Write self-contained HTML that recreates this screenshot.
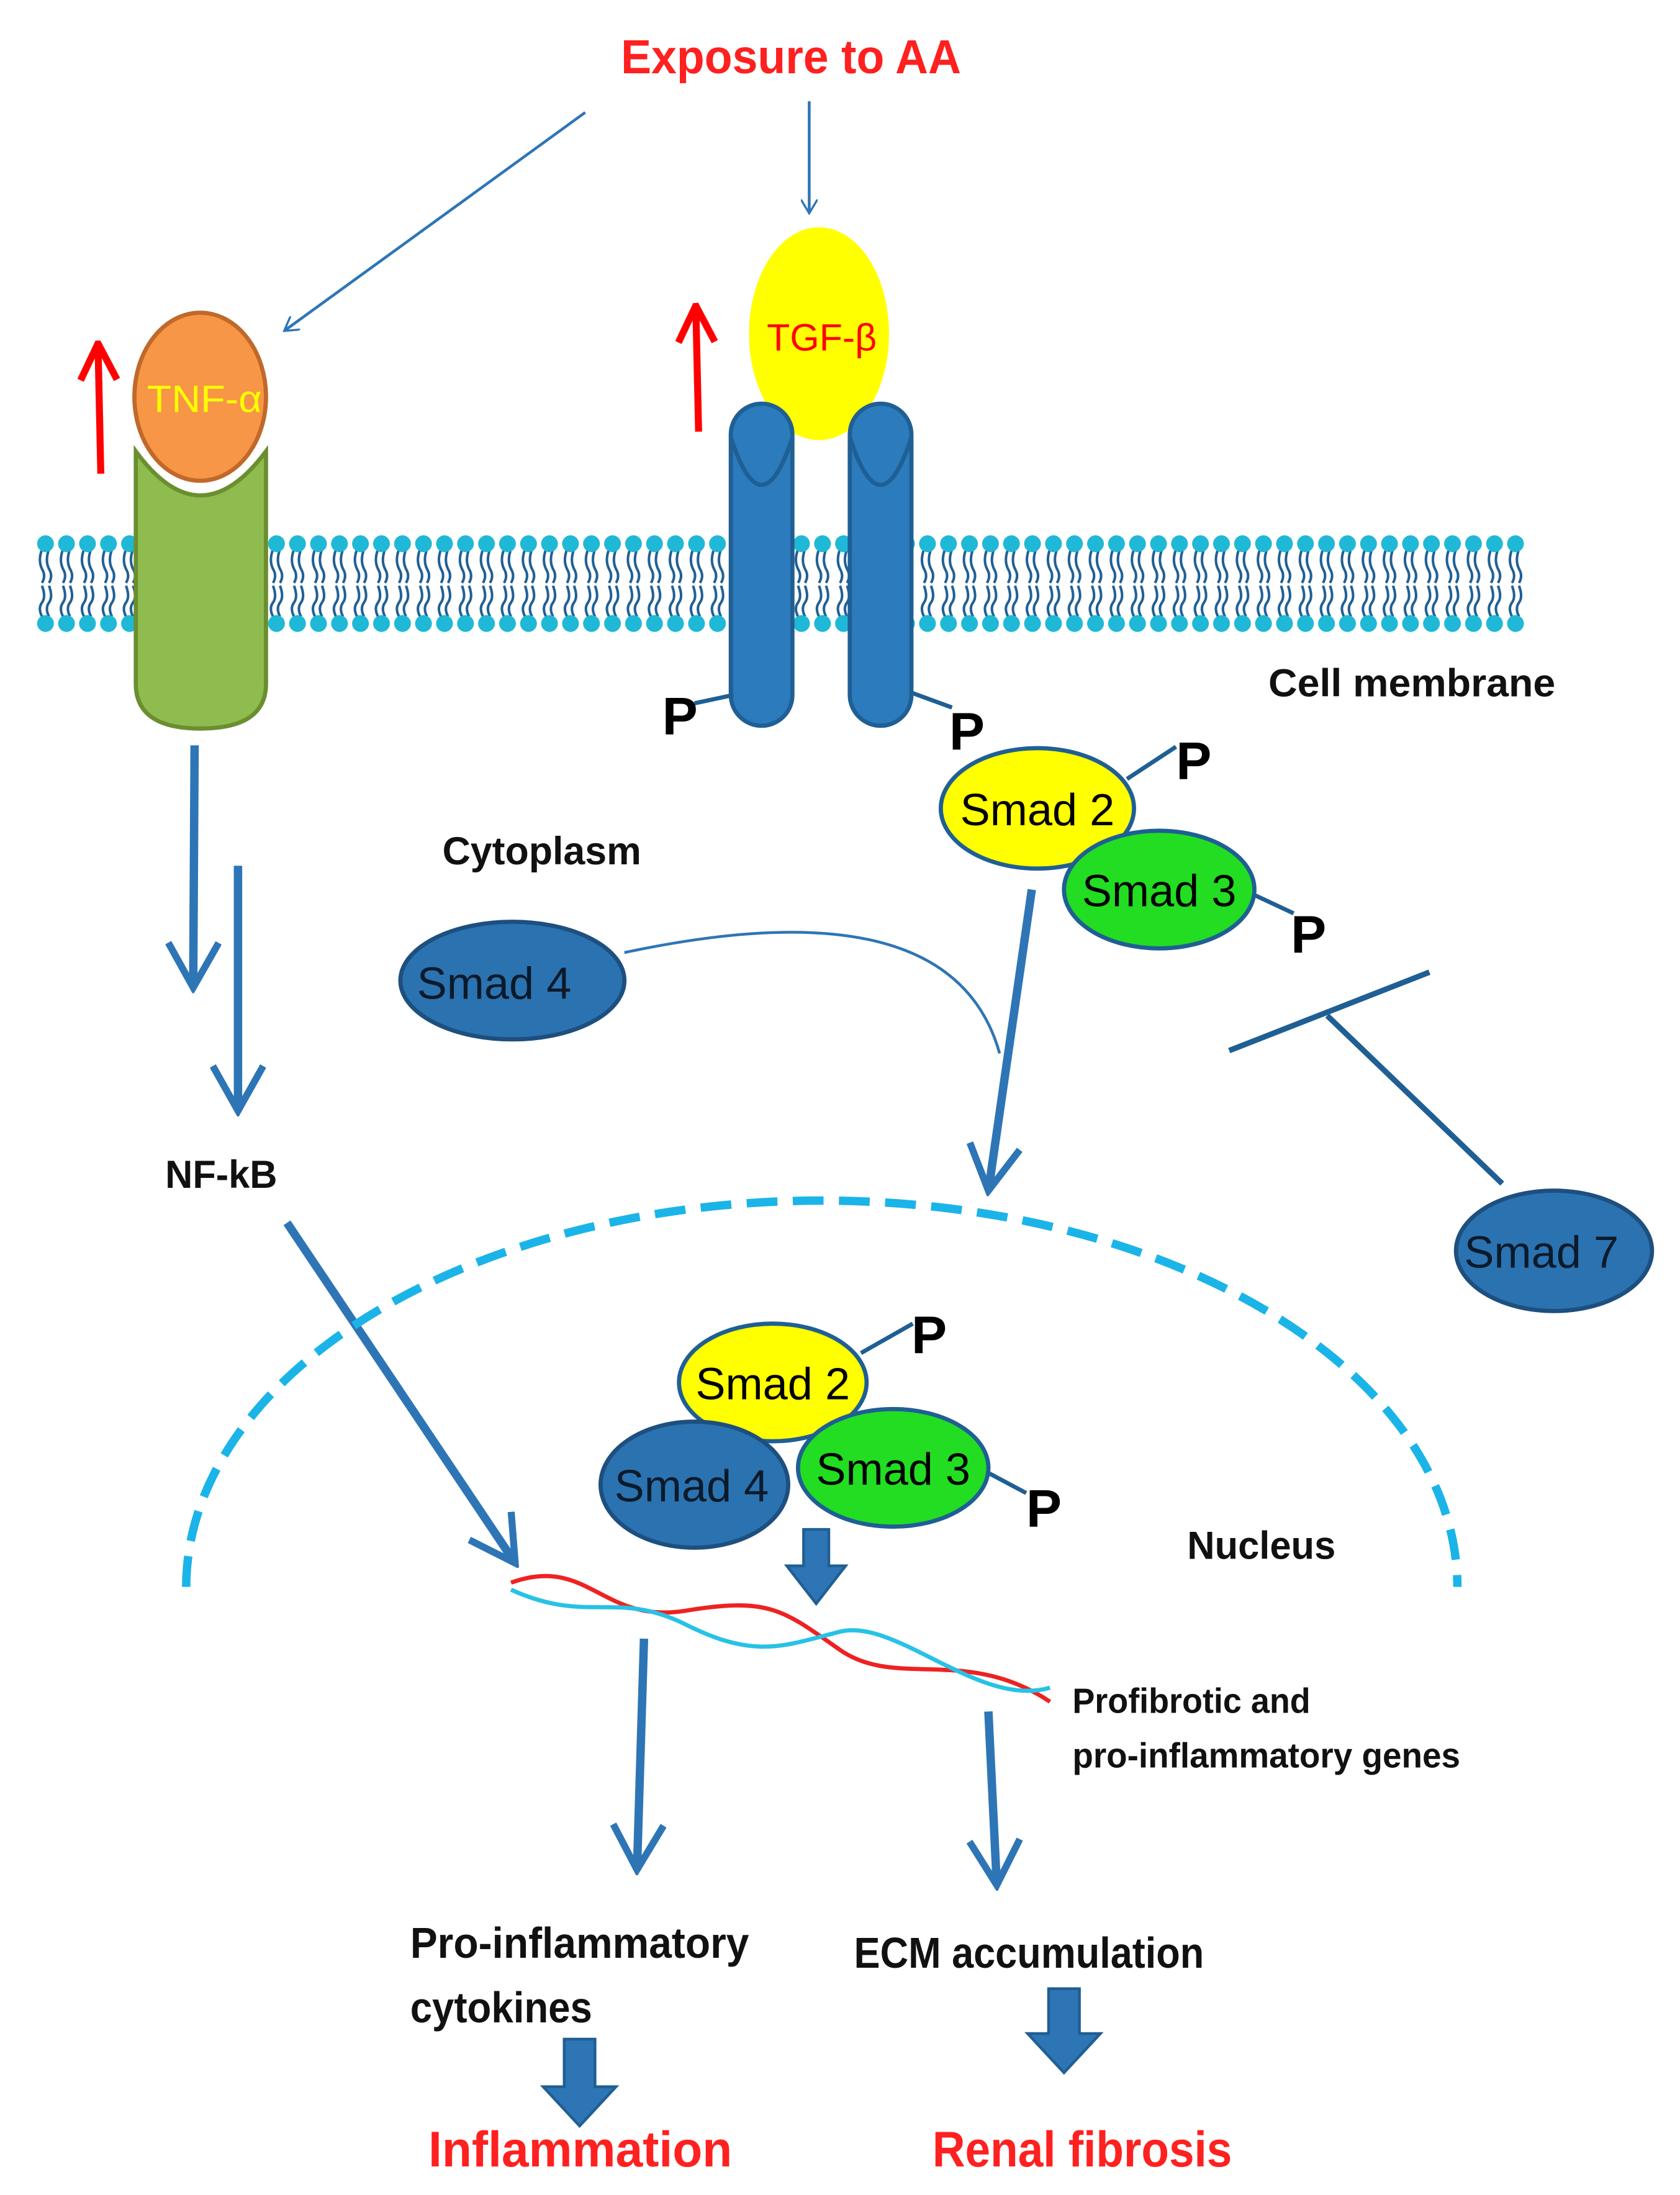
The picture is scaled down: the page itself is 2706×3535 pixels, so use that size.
<!DOCTYPE html>
<html><head><meta charset="utf-8"><style>html,body{margin:0;padding:0;background:#fff}svg{display:block}</style></head>
<body>
<svg width="2706" height="3535" viewBox="0 0 1200 1567" xmlns="http://www.w3.org/2000/svg" font-family="Liberation Sans, sans-serif">
<defs>
<marker id="open" markerWidth="12" markerHeight="12" refX="10" refY="6" orient="auto" markerUnits="userSpaceOnUse" viewBox="0 0 12 12"><path d="M0,0 L10,6 L0,12" fill="none" stroke="#2e75b6" stroke-width="1.5"/></marker>
<marker id="thick" markerWidth="40" markerHeight="40" refX="36" refY="20" orient="auto" markerUnits="userSpaceOnUse" viewBox="0 0 40 40"><path d="M4,2 L36,20 L4,38" fill="none" stroke="#2e75b6" stroke-width="5"/></marker>
<marker id="red" markerWidth="30" markerHeight="30" refX="28" refY="15" orient="auto" markerUnits="userSpaceOnUse" viewBox="0 0 30 30"><path d="M2,2 L28,15 L2,28" fill="none" stroke="#ff0000" stroke-width="5"/></marker>
<pattern id="lip" width="15" height="72" patternUnits="userSpaceOnUse" x="25" y="380">
<path d="M5,12 q-3,8 0,14 q3,5 0,10 M10,12 q-3,8 0,14 q3,5 0,10" fill="none" stroke="#1f5f94" stroke-width="1.8"/>
<path d="M5,38 q3,8 0,12 q-3,4 0,10 M10,38 q3,8 0,12 q-3,4 0,10" fill="none" stroke="#1f5f94" stroke-width="1.8"/>
<circle cx="7.5" cy="8" r="6" fill="#1fb8d6"/><circle cx="7.5" cy="65" r="6" fill="#1fb8d6"/>
</pattern>
</defs>
<rect width="1200" height="1567" fill="#fff"/>
<rect x="25" y="380" width="1065" height="72" fill="url(#lip)"/>

<text x="565" y="52" text-anchor="middle" font-size="34" font-weight="bold" fill="#ff2020" textLength="243" lengthAdjust="spacingAndGlyphs">Exposure to AA</text>
<line x1="418" y1="80" x2="203" y2="236" stroke="#2e75b6" stroke-width="2" marker-end="url(#open)"/>
<line x1="578" y1="72" x2="578" y2="152" stroke="#2e75b6" stroke-width="2" marker-end="url(#open)"/>

<line x1="72" y1="338" x2="70" y2="245" stroke="#ff0000" stroke-width="5" marker-end="url(#red)"/>
<path d="M97,322 Q143,385 190,322 L190,488 Q190,520 143,520 Q97,520 97,488 Z" fill="#8fbc4f" stroke="#6b8e2f" stroke-width="3"/>
<ellipse cx="143" cy="283" rx="47" ry="60" fill="#f79646" stroke="#c0692a" stroke-width="3"/>
<text x="146" y="294" text-anchor="middle" font-size="27" fill="#ffff00" textLength="82" lengthAdjust="spacingAndGlyphs">TNF-α</text>

<line x1="499" y1="308" x2="497" y2="218" stroke="#ff0000" stroke-width="5" marker-end="url(#red)"/>
<ellipse cx="585" cy="238" rx="50" ry="76" fill="#ffff00"/>
<text x="587" y="250" text-anchor="middle" font-size="27" fill="#ff0000">TGF-β</text>
<rect x="522" y="288" width="44" height="230" rx="22" fill="#2b7bbd" stroke="#1f5f94" stroke-width="3"/>
<path d="M522,312 Q544,380 566,312" fill="none" stroke="#1f5f94" stroke-width="3"/>
<rect x="607" y="288" width="44" height="230" rx="22" fill="#2b7bbd" stroke="#1f5f94" stroke-width="3"/>
<path d="M607,312 Q629,380 651,312" fill="none" stroke="#1f5f94" stroke-width="3"/>
<line x1="496" y1="502" x2="524" y2="496" stroke="#1f5f94" stroke-width="3"/>
<text x="473" y="524" font-size="38" font-weight="bold">P</text>
<line x1="650" y1="494" x2="680" y2="505" stroke="#1f5f94" stroke-width="3"/>
<text x="678" y="535" font-size="38" font-weight="bold">P</text>
<text x="906" y="497" font-size="28" font-weight="bold" fill="#111" textLength="205" lengthAdjust="spacingAndGlyphs">Cell membrane</text>

<line x1="805" y1="556" x2="840" y2="533" stroke="#1f5f94" stroke-width="3"/>
<text x="840" y="556" font-size="38" font-weight="bold">P</text>
<line x1="892" y1="637" x2="924" y2="652" stroke="#1f5f94" stroke-width="3"/>
<text x="922" y="680" font-size="38" font-weight="bold">P</text>
<ellipse cx="741" cy="577" rx="69" ry="43" fill="#ffff00" stroke="#1f5f94" stroke-width="3"/>
<ellipse cx="828" cy="635" rx="68" ry="42" fill="#22dd22" stroke="#1f5f94" stroke-width="3"/>
<text x="741" y="589" text-anchor="middle" font-size="32">Smad 2</text>
<text x="828" y="647" text-anchor="middle" font-size="32">Smad 3</text>

<text x="316" y="617" font-size="28" font-weight="bold" fill="#111" textLength="142" lengthAdjust="spacingAndGlyphs">Cytoplasm</text>
<ellipse cx="366" cy="700" rx="80" ry="42" fill="#2b72b0" stroke="#1d4f7f" stroke-width="3"/>
<text x="353" y="713" text-anchor="middle" font-size="32" fill="#0b1a2a">Smad 4</text>
<path d="M446,680 Q680,630 714,752" fill="none" stroke="#2e75b6" stroke-width="2"/>
<line x1="737" y1="635" x2="706" y2="850" stroke="#2e75b6" stroke-width="6" marker-end="url(#thick)"/>

<line x1="878" y1="750" x2="1021" y2="694" stroke="#1f5f94" stroke-width="4"/>
<line x1="948" y1="725" x2="1073" y2="845" stroke="#1f5f94" stroke-width="4"/>
<ellipse cx="1110" cy="893" rx="70" ry="43" fill="#2b72b0" stroke="#1d4f7f" stroke-width="3"/>
<text x="1101" y="905" text-anchor="middle" font-size="32" fill="#0b1a2a">Smad 7</text>

<line x1="139" y1="532" x2="138" y2="705" stroke="#2e75b6" stroke-width="6" marker-end="url(#thick)"/>
<line x1="170" y1="618" x2="170" y2="793" stroke="#2e75b6" stroke-width="6" marker-end="url(#thick)"/>
<text x="118" y="848" font-size="28" font-weight="bold" fill="#111" textLength="80" lengthAdjust="spacingAndGlyphs">NF-kB</text>
<line x1="205" y1="873" x2="368" y2="1116" stroke="#2e75b6" stroke-width="6" marker-end="url(#thick)"/>

<path d="M133,1133 A454,276 0 0 1 1041,1133" fill="none" stroke="#1bb4e8" stroke-width="6" stroke-dasharray="22,11"/>
<line x1="615" y1="966" x2="652" y2="945" stroke="#1f5f94" stroke-width="3"/>
<text x="651" y="966" font-size="38" font-weight="bold">P</text>
<line x1="703" y1="1050" x2="733" y2="1066" stroke="#1f5f94" stroke-width="3"/>
<text x="733" y="1090" font-size="38" font-weight="bold">P</text>
<ellipse cx="552" cy="987" rx="67" ry="42" fill="#ffff00" stroke="#1f5f94" stroke-width="3"/>
<ellipse cx="496" cy="1060" rx="67" ry="45" fill="#2b72b0" stroke="#1d4f7f" stroke-width="3"/>
<ellipse cx="638" cy="1048" rx="68" ry="42" fill="#22dd22" stroke="#1f5f94" stroke-width="3"/>
<text x="552" y="999" text-anchor="middle" font-size="32">Smad 2</text>
<text x="494" y="1072" text-anchor="middle" font-size="32" fill="#0b1a2a">Smad 4</text>
<text x="638" y="1060" text-anchor="middle" font-size="32">Smad 3</text>
<path d="M574,1092 L592,1092 L592,1118 L604,1118 L583,1145 L562,1118 L574,1118 Z" fill="#2e75b6" stroke="#1f5f94" stroke-width="2"/>
<text x="848" y="1113" font-size="28" font-weight="bold" fill="#111" textLength="106" lengthAdjust="spacingAndGlyphs">Nucleus</text>

<path d="M365,1130 C420,1110 430,1160 490,1150 S560,1150 600,1178 S690,1175 750,1215" fill="none" stroke="#e22" stroke-width="3"/>
<path d="M365,1135 C420,1160 440,1135 490,1160 S560,1175 600,1165 S700,1220 750,1205" fill="none" stroke="#27c2e6" stroke-width="3"/>
<text x="766" y="1223" font-size="25" font-weight="bold" fill="#111" textLength="170" lengthAdjust="spacingAndGlyphs">Profibrotic and</text>
<text x="766" y="1262" font-size="25" font-weight="bold" fill="#111" textLength="277" lengthAdjust="spacingAndGlyphs">pro-inflammatory genes</text>
<line x1="460" y1="1170" x2="455" y2="1335" stroke="#2e75b6" stroke-width="6" marker-end="url(#thick)"/>
<line x1="706" y1="1222" x2="712" y2="1346" stroke="#2e75b6" stroke-width="6" marker-end="url(#thick)"/>

<text x="293" y="1398" font-size="31" font-weight="bold" fill="#111" textLength="242" lengthAdjust="spacingAndGlyphs">Pro-inflammatory</text>
<text x="293" y="1444" font-size="31" font-weight="bold" fill="#111" textLength="130" lengthAdjust="spacingAndGlyphs">cytokines</text>
<text x="610" y="1405" font-size="31" font-weight="bold" fill="#111" textLength="250" lengthAdjust="spacingAndGlyphs">ECM accumulation</text>
<path d="M403,1456 L425,1456 L425,1490 L440,1490 L414,1518 L388,1490 L403,1490 Z" fill="#2e75b6" stroke="#1f5f94" stroke-width="2"/>
<path d="M749,1420 L771,1420 L771,1452 L786,1452 L760,1480 L734,1452 L749,1452 Z" fill="#2e75b6" stroke="#1f5f94" stroke-width="2"/>
<text x="306" y="1547" font-size="36" font-weight="bold" fill="#ff2020" textLength="217" lengthAdjust="spacingAndGlyphs">Inflammation</text>
<text x="666" y="1547" font-size="36" font-weight="bold" fill="#ff2020" textLength="214" lengthAdjust="spacingAndGlyphs">Renal fibrosis</text>
</svg>
</body></html>
